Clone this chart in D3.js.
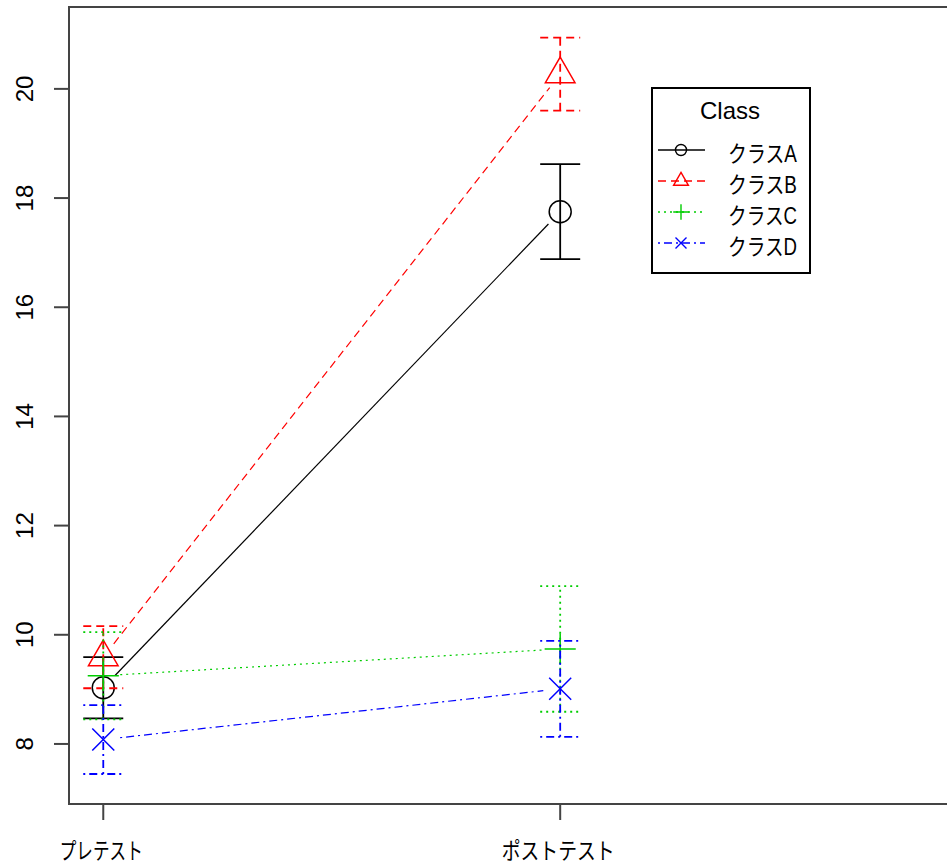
<!DOCTYPE html>
<html>
<head>
<meta charset="utf-8">
<script src="https://cdn.jsdelivr.net/npm/d3@7"></script>
<style>
body { margin: 0; background: #fff; }
svg { display: block; }
text { font-family: "Liberation Sans", Arial, sans-serif; fill: #000; }
.jp { font-family: "Liberation Sans", "Noto Sans CJK JP", sans-serif; }
</style>
</head>
<body>
<div id="chart"><svg></svg></div>
<script>
// 데이터
var conditions = ["プレテスト", "ポストテスト"];
var classes = ["クラスA", "クラスB", "クラスC", "クラスD"];
var meanA = [9.03, 17.75];
var meanB = [9.59, 20.27];
var meanC = [9.25, 9.74];
var meanD = [8.08, 9.01];
var errA = [0.56, 0.87];
var errB = [0.57, 0.67];
var errC = [0.80, 1.15];
var errD = [0.63, 0.88];
var yTicks = [8, 10, 12, 14, 16, 18, 20];
var legendTitle = "Class";

var means = [meanA, meanB, meanC, meanD];
var errs = [errA, errB, errC, errD];
var colors = ["#000000", "#ff0000", "#00cd00", "#0000ff"];
var dashes = [null, "8,5", "2,4", "2,4,8,4"];
var shapes = ["circle", "triangle", "plus", "cross"];

var W = 947, H = 865;
// 플롯 영역 (오른쪽은 화면 밖)
var T = 7, L = 69, B = 804, R = 960;

var x = d3.scaleLinear().domain([0.925, 2.875]).range([L, R]);
var y = d3.scaleLinear().domain([6.9, 21.5]).range([B, T]);

var svg = d3.select("#chart svg").attr("width", W).attr("height", H);

// 심볼 path
function symbol(shape, s) {
    var p = d3.path();
    if (shape == "circle") {
        p.moveTo(s, 0);
        p.arc(0, 0, s, 0, 2 * Math.PI);
    } else if (shape == "triangle") {
        var r = 1.555 * s, xc = 1.347 * s;
        p.moveTo(0, -r);
        p.lineTo(xc, r / 2);
        p.lineTo(-xc, r / 2);
        p.closePath();
    } else if (shape == "plus") {
        var c = 1.414 * s;
        p.moveTo(-c, 0); p.lineTo(c, 0);
        p.moveTo(0, -c); p.lineTo(0, c);
    } else {
        p.moveTo(-s, -s); p.lineTo(s, s);
        p.moveTo(-s, s); p.lineTo(s, -s);
    }
    return p.toString();
}

var gData = svg.append("g").attr("class", "data");

var gap = 17;
var cap = 20;

means.forEach(function(m, k) {
    var g = gData.append("g");
    // 선 (type="b" 처럼 점 주위는 비움)
    for (var i = 0; i < m.length - 1; i++) {
        var x0 = x(i + 1), y0 = y(m[i]), x1 = x(i + 2), y1 = y(m[i + 1]);
        var d = Math.hypot(x1 - x0, y1 - y0);
        var ux = (x1 - x0) / d, uy = (y1 - y0) / d;
        g.append("line")
            .attr("x1", x0 + ux * gap).attr("y1", y0 + uy * gap)
            .attr("x2", x1 - ux * gap).attr("y2", y1 - uy * gap)
            .attr("stroke", colors[k])
            .attr("stroke-width", 1.2)
            .attr("stroke-dasharray", dashes[k]);
    }
    // 에러바
    m.forEach(function(v, i) {
        var cx = x(i + 1);
        var lo = y(v - errs[k][i]), hi = y(v + errs[k][i]);
        var eb = g.append("g")
            .attr("stroke", colors[k])
            .attr("stroke-width", 1.8)
            .attr("stroke-dasharray", dashes[k]);
        eb.append("line").attr("x1", cx).attr("x2", cx).attr("y1", lo).attr("y2", hi);
        eb.append("line").attr("x1", cx - cap).attr("x2", cx + cap).attr("y1", lo).attr("y2", lo);
        eb.append("line").attr("x1", cx - cap).attr("x2", cx + cap).attr("y1", hi).attr("y2", hi);
    });
    // 점
    g.selectAll("path.pt").data(m).enter()
        .append("path")
        .attr("class", "pt")
        .attr("transform", function(v, i) { return "translate(" + x(i + 1) + "," + y(v) + ")"; })
        .attr("d", symbol(shapes[k], 11))
        .attr("fill", "none")
        .attr("stroke", colors[k])
        .attr("stroke-width", 1.5);
});

// 박스
svg.append("path")
    .attr("d", "M" + R + "," + T + "H" + L + "V" + B + "H" + R)
    .attr("fill", "none")
    .attr("stroke", "#444")
    .attr("stroke-width", 2);

// y축
var gyAxis = svg.append("g").attr("class", "y-axis");
gyAxis.selectAll("line").data(yTicks).enter()
    .append("line")
    .attr("x1", L - 15).attr("x2", L)
    .attr("y1", function(d) { return y(d); })
    .attr("y2", function(d) { return y(d); })
    .attr("stroke", "#444").attr("stroke-width", 2);
gyAxis.selectAll("text").data(yTicks).enter()
    .append("text")
    .attr("transform", function(d) { return "translate(33," + y(d) + ") rotate(-90)"; })
    .attr("text-anchor", "middle")
    .attr("font-size", 24)
    .text(function(d) { return d; });

// x축
var labelW = [83, 113];
var gxAxis = svg.append("g").attr("class", "x-axis");
gxAxis.selectAll("line").data(conditions).enter()
    .append("line")
    .attr("x1", function(d, i) { return x(i + 1); })
    .attr("x2", function(d, i) { return x(i + 1); })
    .attr("y1", B).attr("y2", B + 16)
    .attr("stroke", "#444").attr("stroke-width", 2);
gxAxis.selectAll("text").data(conditions).enter()
    .append("text")
    .attr("class", "jp")
    .attr("x", function(d, i) { return x(i + 1) - 2; })
    .attr("y", 859)
    .attr("text-anchor", "middle")
    .attr("font-size", 23)
    .attr("textLength", function(d, i) { return labelW[i]; })
    .attr("lengthAdjust", "spacingAndGlyphs")
    .text(function(d) { return d; });

// 범례
var lg = svg.append("g").attr("class", "legend");
lg.append("rect")
    .attr("x", 652).attr("y", 88)
    .attr("width", 158).attr("height", 185)
    .attr("fill", "#fff")
    .attr("stroke", "#000").attr("stroke-width", 2);
lg.append("text")
    .attr("x", 730).attr("y", 119)
    .attr("text-anchor", "middle")
    .attr("font-size", 24)
    .text(legendTitle);

var item = lg.selectAll("g.item").data(classes).enter()
    .append("g")
    .attr("class", "item")
    .attr("transform", function(d, i) { return "translate(0," + (150 + i * 31) + ")"; });
item.append("line")
    .attr("x1", 658).attr("x2", 705)
    .attr("stroke", function(d, i) { return colors[i]; })
    .attr("stroke-width", 1.3)
    .attr("stroke-dasharray", function(d, i) { return dashes[i]; });
item.append("path")
    .attr("transform", "translate(681,0)")
    .attr("d", function(d, i) { return symbol(shapes[i], 5.5); })
    .attr("fill", "none")
    .attr("stroke", function(d, i) { return colors[i]; })
    .attr("stroke-width", 1.4);
item.append("text")
    .attr("class", "jp")
    .attr("x", 728).attr("y", 12)
    .attr("font-size", 23)
    .attr("textLength", 69)
    .attr("lengthAdjust", "spacingAndGlyphs")
    .text(function(d) { return d; });
</script>
</body>
</html>
